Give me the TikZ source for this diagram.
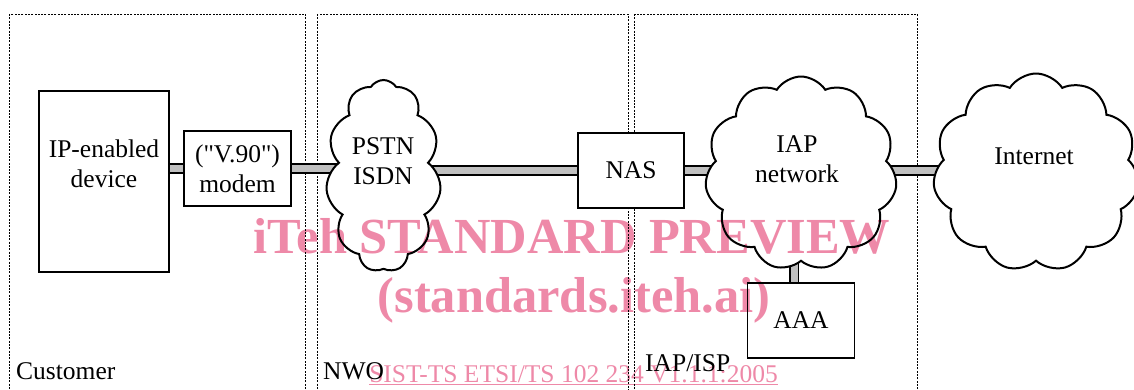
\documentclass[tikz,border=0pt]{standalone}
\usepackage{fontspec}
\setmainfont{Liberation Serif}[Ligatures=TeXOff]
\usetikzlibrary{positioning,shapes.symbols,backgrounds}
\definecolor{linkgray}{RGB}{192,192,192}
\definecolor{wmpink}{RGB}{238,137,168}
\tikzset{box/.style ={draw, line width=1.9pt, fill=white, inner sep=0pt},
netcloud/.style ={cloud, draw, line width=2pt, fill=white, cloud puffs=11, cloud puff arc=115, inner sep=0pt},
link/.style ={draw=black, line width=1.6pt, double=linkgray, double distance=7pt},
zone/.style ={draw, line width=1pt, dash pattern=on 2pt off 1.3pt},
wm/.style ={text=wmpink, inner sep=0pt}}

\begin{document}
\begin{tikzpicture}[x=1pt, y=-1pt, align=center, font=\fontsize{25.5}{30}\selectfont]
\useasboundingbox (0,0) rectangle (1134,389);
% equipment
\node[box, minimum width=130pt, minimum height=181pt] (device) at (104,181.5) {};
\node[inner sep=0pt] (devtxt) at (104,164) {IP-enabled\\device};
\node[box, minimum width=107pt, minimum height=75pt] (modem) at (237.5,168.5) {("V.90")\\modem};
\node[netcloud, minimum width=115pt, minimum height=192pt] (pstn) at (383.5,176) {};
\node[inner sep=0pt] (pstntxt) at (383,161) {PSTN\\ISDN};
\node[box, minimum width=106pt, minimum height=75pt] (nas) at (631,170.5) {NAS};
\node[netcloud, minimum width=192pt, minimum height=194pt] (iapnet) at (801,173.5) {};
\node[inner sep=0pt] (iaptxt) at (797,159.5) {IAP\\network};
\node[netcloud, minimum width=206pt, minimum height=198pt] (internet) at (1036,172.5) {};
\node[inner sep=0pt] (inettxt) at (1034,156) {Internet};
\node[box, minimum width=107pt, minimum height=75pt] (aaa) [below=20pt of iapnet] {AAA};
% domain labels
\node[inner sep=0pt, anchor=base west] (customer) at (16,379) {Customer};
\node[inner sep=0pt, anchor=base west] (nwo) at (323,379) {NWO};
\node[inner sep=0pt, anchor=base west] (iapisp) at (645,371) {IAP/ISP};
\begin{scope}[on background layer]
\draw[zone] (9,14) rectangle (305,400);
\draw[zone] (317,14) rectangle (628,400);
\draw[zone] (634,14) rectangle (917,400);
\draw[link] (device.east |- modem.west) -- (modem.west);
\draw[link] (modem.east) -- (modem.east -| pstn.center);
\draw[link] (pstn.center |- nas.west) -- (nas.west);
\draw[link] (nas.east) -- (nas.east -| iapnet.center);
\draw[link] (iapnet.center |- nas.west) -- (internet.center |- nas.west);
\draw[link] ([xshift=-7pt]aaa.north) -- ([xshift=-7pt]aaa.north |- iapnet.center);
\end{scope}
% watermark
\begin{scope}[blend mode=multiply]
\node[wm, anchor=base, font=\fontsize{50.5}{50}\selectfont\bfseries] (wmtitle) at (572,253) {iTeh STANDARD PREVIEW};
\node[wm, anchor=base, font=\fontsize{50.5}{50}\selectfont\bfseries] (wmsite) at (574,312) {(standards.iteh.ai)};
\node[wm, anchor=base] (wmref) at (573.5,382) {\underline{SIST-TS ETSI/TS 102 234 V1.1.1:2005}};
\end{scope}
\end{tikzpicture}
\end{document}
